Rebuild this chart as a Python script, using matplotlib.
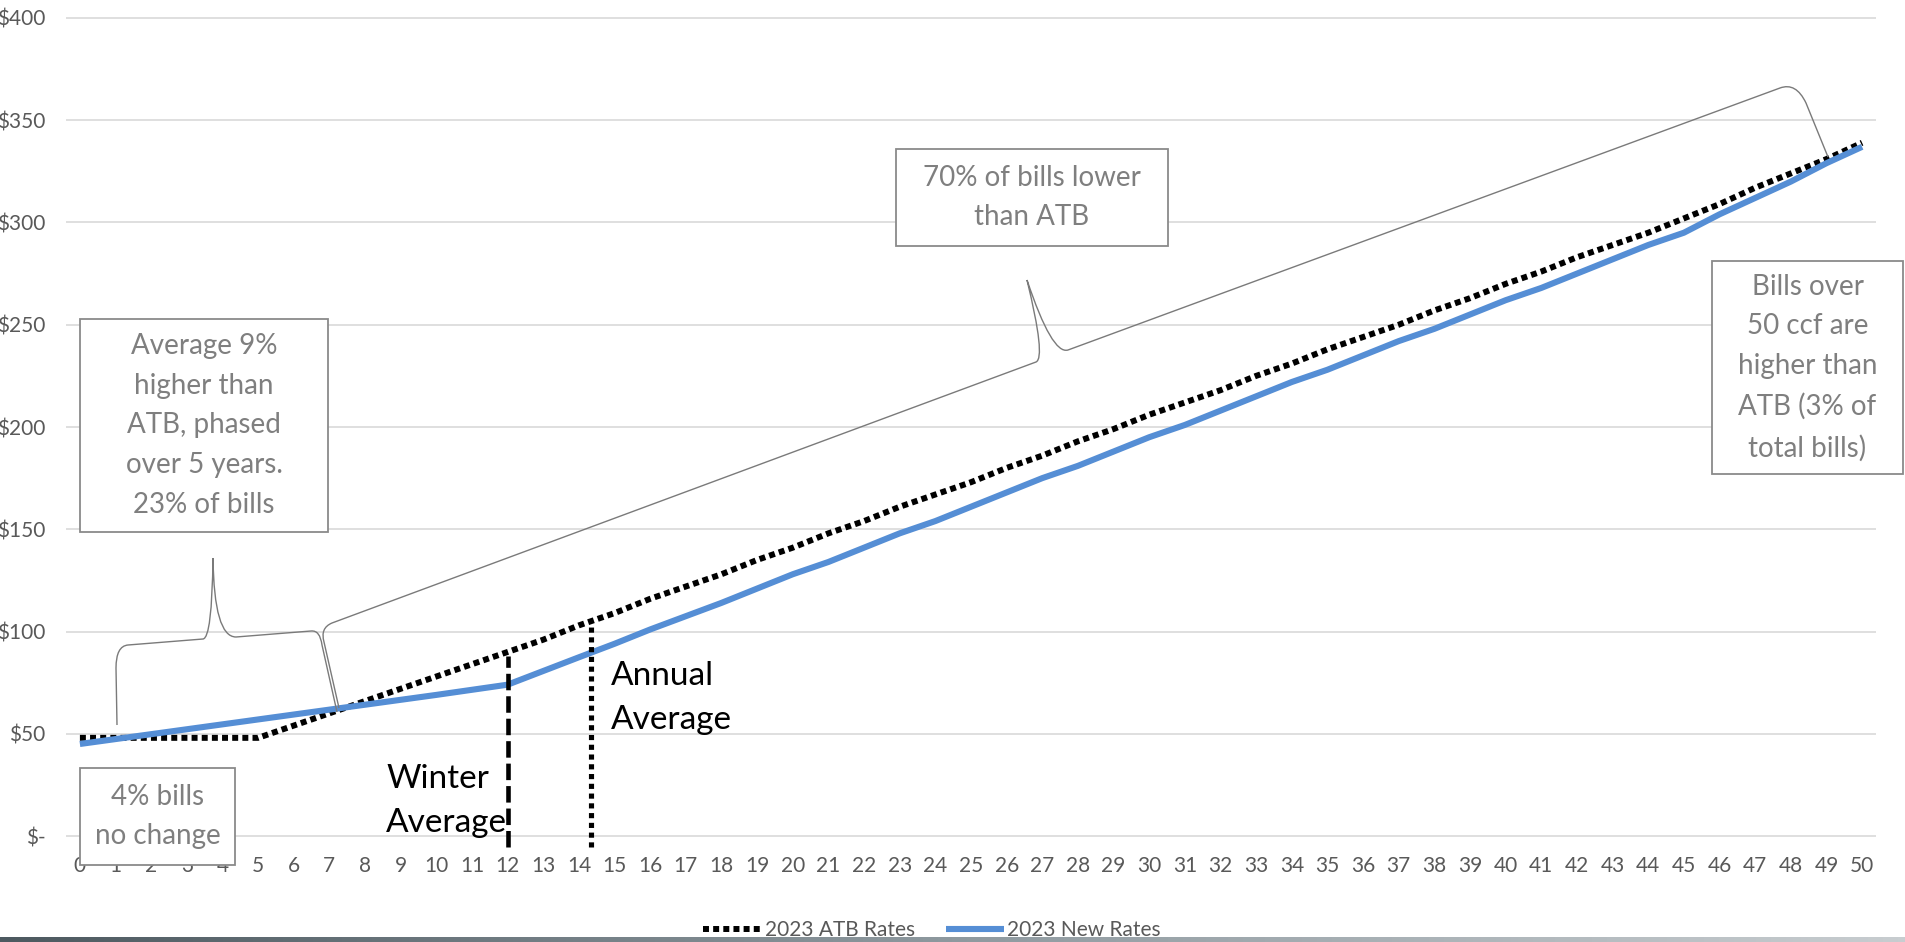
import numpy as np
import matplotlib.pyplot as plt
from matplotlib.patches import Rectangle, PathPatch
from matplotlib.path import Path
from matplotlib.colors import LinearSegmentedColormap

plt.rcParams['font.family'] = ['Lato', 'DejaVu Sans']

# monthly usage (ccf) and bill amounts ($)
usage_ccf = list(range(0, 51))
atb_rates = [48, 48, 48, 48, 48, 48, 54, 60, 66, 72, 78, 84, 90,
             96, 103, 109, 116, 122, 128, 135, 141, 148, 154,
             161, 167, 173, 180, 186, 193, 199, 206, 212, 218,
             225, 231, 238, 244, 250, 257, 263, 270, 276, 283,
             289, 295, 302, 309, 317, 324, 331, 339]
new_rates = [45, 47.4, 49.8, 52.2, 54.6, 57, 59.4, 61.8, 64.2, 66.6, 69, 71.5, 74,
             80.7, 87.4, 94, 101, 107.5, 114, 121, 128, 134, 141,
             148, 154, 161, 168, 175, 181, 188, 195, 201, 208,
             215, 222, 228, 235, 242, 248, 255, 262, 268, 275,
             282, 289, 295, 304, 312, 320, 329, 337]

y_ticks = [0, 50, 100, 150, 200, 250, 300, 350, 400]
y_labels = ["$-" if v == 0 else "${}".format(v) for v in y_ticks]

winter_avg = 12
winter_span = (-5.5, 88)
annual_avg = 14.33
annual_span = (-5.5, 104)

W, H = 1905, 942


def fx(px):
    return px / W


def fy(py):
    return 1 - py / H


fig = plt.figure(figsize=(W / 100, H / 100), dpi=100)

ax = fig.add_axes([fx(66), fy(842), fx(1876) - fx(66), fy(12) - fy(842)])
ax.set_xlim(-0.39, 50.39)
ax.set_ylim(-2.93, 402.93)

ax.plot(usage_ccf, atb_rates, color="black", lw=4.3, linestyle=(0, (1, 0.7)),
        dash_capstyle="butt", label="2023 ATB Rates", zorder=3)
ax.plot(usage_ccf, new_rates, color="#558ED5", lw=4.4, solid_joinstyle="round",
        solid_capstyle="butt", label="2023 New Rates", zorder=4)

ax.plot([winter_avg, winter_avg], winter_span, color="black", lw=3.3,
        linestyle=(0, (3.6, 1.3)), dash_capstyle="butt", clip_on=False, zorder=5)
ax.plot([annual_avg, annual_avg], annual_span, color="black", lw=3.7,
        linestyle=(0, (1, 0.9)), dash_capstyle="butt", clip_on=False, zorder=5)

ax.set_yticks(y_ticks)
ax.set_yticklabels(y_labels)
ax.set_xticks(usage_ccf)
ax.grid(axis="y", color="#d9d9d9", lw=1.2)
ax.set_axisbelow(True)
for s in ax.spines.values():
    s.set_visible(False)
ax.tick_params(length=0, labelcolor="#595959", labelsize=15)
ax.tick_params(axis="x", pad=10)
ax.tick_params(axis="y", pad=15)

fig.text(fx(386), fy(832), "Winter\nAverage", fontsize=24, color="black",
         ha="left", va="baseline", linespacing=1.6, zorder=6)
fig.text(fx(611), fy(729), "Annual\nAverage", fontsize=24, color="black",
         ha="left", va="baseline", linespacing=1.6, zorder=6)


def add_box(x0, y0, x1, y1, text):
    fig.add_artist(Rectangle((fx(x0), fy(y1)), fx(x1) - fx(x0), fy(y0) - fy(y1),
                             transform=fig.transFigure, facecolor="white",
                             edgecolor="#8a8a8a", lw=1.3, zorder=6))
    fig.text(fx((x0 + x1) / 2), fy((y0 + y1) / 2), text, fontsize=20,
             color="#7f7f7f", ha="center", va="center", multialignment="center",
             linespacing=1.65, zorder=7)


add_box(80, 319, 328, 532, "Average 9%\nhigher than\nATB, phased\nover 5 years.\n23% of bills")
add_box(80, 768, 235, 865, "4% bills\nno change")
add_box(896, 149, 1168, 246, "70% of bills lower\nthan ATB")
add_box(1712, 261, 1903, 474, "Bills over\n50 ccf are\nhigher than\nATB (3% of\ntotal bills)")


def add_brace(pts, codes):
    verts = [(fx(x), fy(y)) for x, y in pts]
    fig.add_artist(PathPatch(Path(verts, codes), transform=fig.transFigure,
                             fill=False, edgecolor="#7a7a7a", lw=1.0, zorder=5))


M, L, Q = Path.MOVETO, Path.LINETO, Path.CURVE3
add_brace([(117, 725), (116, 668), (116, 646), (128, 645), (203, 639),
           (212, 638), (213, 558), (214, 637), (236, 637), (311, 631),
           (320, 630), (322, 645), (337, 712)],
          [M, L, Q, Q, L, Q, Q, Q, Q, L, Q, Q, L])
add_brace([(339, 708), (324, 642), (320, 628), (332, 623), (1036, 362),
           (1046, 358), (1027, 280), (1052, 355), (1068, 350), (1780, 88),
           (1796, 82), (1806, 103), (1828, 157)],
          [M, L, Q, Q, L, Q, Q, Q, Q, L, Q, Q, L])

handles, labels = ax.get_legend_handles_labels()
fig.legend(handles, labels, loc="center", bbox_to_anchor=(fx(932), fy(930)),
           ncol=2, frameon=False, fontsize=15, handlelength=2.8,
           handletextpad=0.15, columnspacing=1.5, labelcolor="#595959")

# thin gradient strip at the very bottom
bar = fig.add_axes([0, 0, 1, 5 / H], zorder=10)
cmap = LinearSegmentedColormap.from_list("strip", ["#4d5960", "#8e999f", "#c8cdd0"])
bar.imshow(np.linspace(0, 1, 256).reshape(1, -1), aspect="auto", cmap=cmap)
bar.axis("off")

fig.savefig("out.png", dpi=100)
